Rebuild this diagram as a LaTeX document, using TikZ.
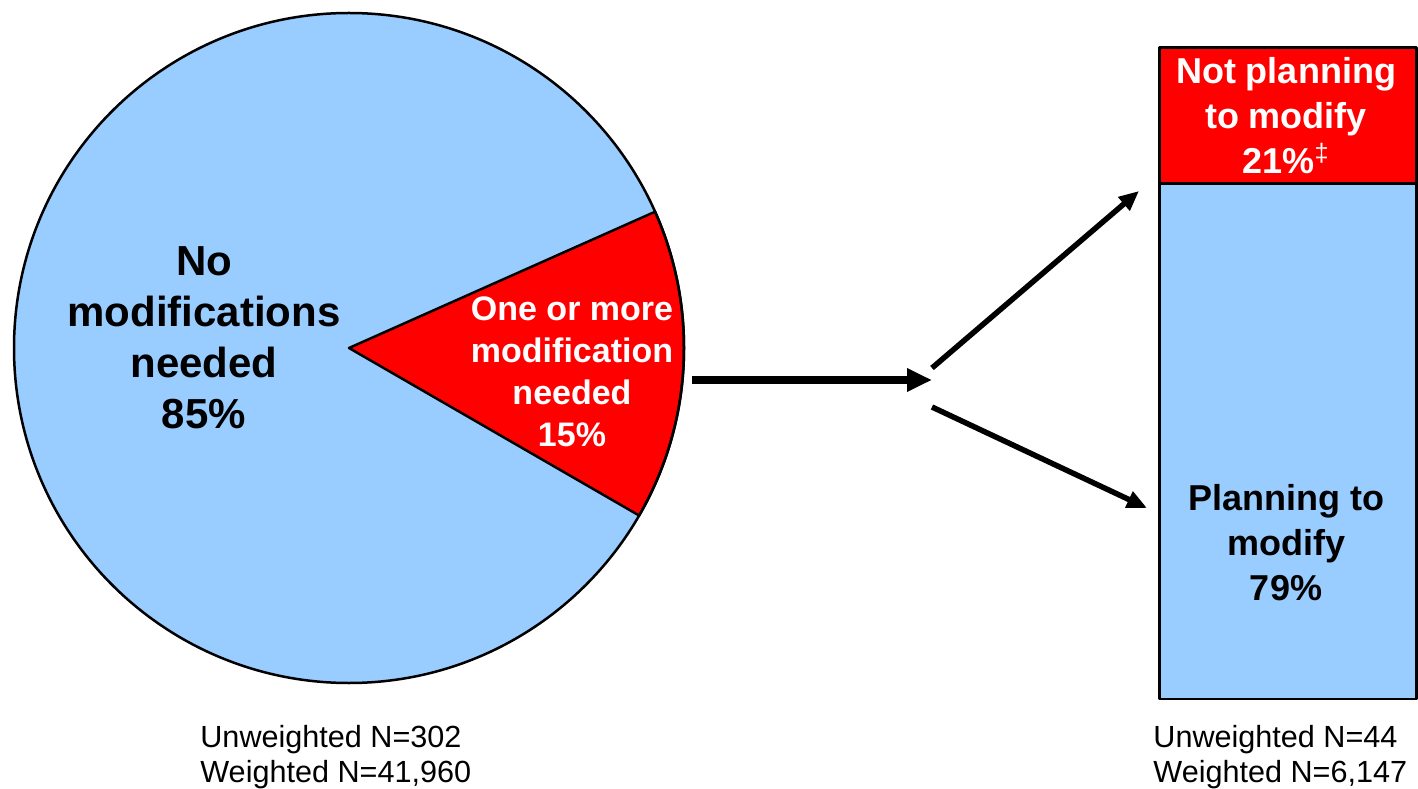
\documentclass[tikz,border=0pt]{standalone}
\usepackage{fontspec}
\setmainfont{Liberation Sans}
\usetikzlibrary{arrows.meta}
\definecolor{pieblue}{HTML}{99CCFF}
\definecolor{piered}{HTML}{FF0000}
\begin{document}
\begin{tikzpicture}[x=0.5pt, y=0.5pt,
	outline/.style={draw=black, line width=1.25pt, line join=round},
	pielabel/.style={font=\bfseries\fontsize{21}{25.5}\selectfont, align=center, inner sep=0pt},
	wedgelabel/.style={font=\bfseries\fontsize{17}{21}\selectfont, align=center, text=white, inner sep=0pt},
	barlabel/.style={font=\bfseries\fontsize{18}{22.5}\selectfont, align=center, inner sep=0pt},
	countlabel/.style={font=\fontsize{15.3}{17.5}\selectfont, align=left, anchor=west, inner sep=0pt},
	barpart/.style={outline, minimum width=128.5pt, inner sep=0pt, anchor=south west},
	bigarrow/.style={-{Triangle[length=12.5pt, width=11pt]}, line width=4pt},
	splitarrow/.style={-{Triangle[length=10pt, width=8.5pt]}, line width=2.75pt}]
\useasboundingbox (0,0) rectangle (1418,788);

% Kreisdiagramm
\coordinate (pie) at (349,440);
\fill[pieblue] (pie) circle[radius=335];
\filldraw[piered, outline] (pie) -- ++(-30:335) arc[start angle=-30, end angle=24, radius=335] -- cycle;
\draw[outline] (pie) circle[radius=335];
\node[pielabel] (nomod) at (204,450) {No\\modifications\\needed\\85\%};
\node[wedgelabel] (onemore) at (572,416) {One or more\\modification\\needed\\15\%};

% Balken
\node[barpart, fill=pieblue, minimum height=257.5pt] (planbar) at (1158,88) {};
\node[barpart, fill=piered, minimum height=68pt] (notbar) at (1158,603) {};
\node[barlabel, text=white] (notplan) at (1286,672) {Not planning\\to modify\\21\%\textsuperscript{\normalfont ‡}};
\node[barlabel] (plan) at (1286,245) {Planning to\\modify\\79\%};

% Pfeile
\coordinate (pieedge) at (692,408);
\coordinate (fork) at (932,408);
\coordinate (upstart) at (932,420);
\coordinate (uptip) at (1139,597);
\coordinate (downstart) at (932,381);
\coordinate (downtip) at (1147,280);
\draw[bigarrow] (pieedge) -- (fork);
\draw[splitarrow] (upstart) -- (uptip);
\draw[splitarrow] (downstart) -- (downtip);

% Fallzahlen
\node[countlabel] (piecount) at (200,31) {Unweighted N=302\\Weighted N=41,960};
\node[countlabel] (barcount) at (1153,31) {Unweighted N=44\\Weighted N=6,147};
\end{tikzpicture}
\end{document}
